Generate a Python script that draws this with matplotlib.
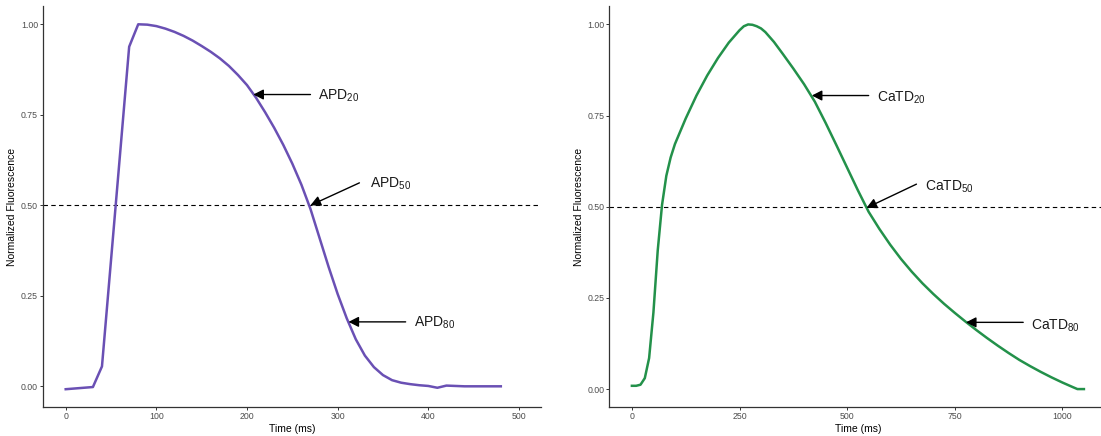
import matplotlib
matplotlib.use("Agg")
import matplotlib.pyplot as plt

# ===== Data =====

# optical action potential (voltage dye), sampled every 10 ms
apd_time = [0, 10, 20, 30, 40, 50, 60, 70, 80, 90,
            100, 110, 120, 130, 140, 150, 160, 170, 180, 190,
            200, 210, 220, 230, 240, 250, 260, 270, 280, 290,
            300, 310, 320, 330, 340, 350, 360, 370, 380, 390,
            400, 410, 420, 430, 440, 450, 460, 470, 480]
apd_signal = [-0.008, -0.006, -0.004, -0.002, 0.055, 0.349, 0.643, 0.938, 1.0, 0.999,
              0.995, 0.988, 0.979, 0.968, 0.955, 0.94, 0.924, 0.906, 0.885, 0.86,
              0.832, 0.797, 0.757, 0.714, 0.667, 0.615, 0.557, 0.49, 0.41, 0.33,
              0.255, 0.188, 0.13, 0.085, 0.053, 0.031, 0.017, 0.01, 0.006, 0.003,
              0.001, -0.004, 0.002, 0.001, 0.0, 0.0, 0.0, 0.0, 0.0]

# calcium transient
catd_time = [0, 10, 20, 30, 40, 50, 60, 70, 80, 90,
             100, 125, 150, 175, 200, 225, 250, 260, 270, 280,
             290, 300, 310, 330, 350, 375, 400, 425, 450, 475,
             500, 525, 550, 575, 600, 625, 650, 675, 700, 725,
             750, 775, 800, 825, 850, 875, 900, 925, 950, 975,
             1000, 1025, 1035, 1050]
catd_signal = [0.009, 0.009, 0.012, 0.03, 0.085, 0.21, 0.38, 0.505, 0.585, 0.635,
               0.672, 0.742, 0.805, 0.86, 0.908, 0.95, 0.984, 0.995, 1.0, 0.999,
               0.995, 0.989, 0.979, 0.952, 0.92, 0.879, 0.836, 0.788, 0.73, 0.669,
               0.607, 0.545, 0.486, 0.439, 0.396, 0.357, 0.322, 0.29, 0.261, 0.234,
               0.209, 0.185, 0.162, 0.14, 0.119, 0.099, 0.08, 0.063, 0.047, 0.032,
               0.018, 0.005, 0.0, 0.0]

# duration markers: (label, arrow tip, arrow tail, text position)
apd_marks = [
    ('APD$_{20}$', (207, 0.806), (270, 0.806), (278, 0.791)),
    ('APD$_{50}$', (270, 0.5), (324, 0.562), (336, 0.548)),
    ('APD$_{80}$', (312, 0.178), (375, 0.178), (384, 0.165)),
]
catd_marks = [
    ('CaTD$_{20}$', (418, 0.805), (550, 0.805), (569, 0.789)),
    ('CaTD$_{50}$', (545, 0.497), (661, 0.562), (682, 0.545)),
    ('CaTD$_{80}$', (776, 0.183), (909, 0.183), (928, 0.162)),
]

# ===== Style =====
plt.rcParams['font.family'] = ['Liberation Sans', 'DejaVu Sans']
plt.rcParams['mathtext.fontset'] = 'custom'
plt.rcParams['mathtext.rm'] = 'Liberation Sans'
plt.rcParams['mathtext.it'] = 'Liberation Sans'
plt.rcParams['mathtext.default'] = 'regular'

fig = plt.figure(figsize=(11.01, 4.36), dpi=100)
ax1 = fig.add_axes([0.0391, 0.0658, 0.452, 0.920])
ax2 = fig.add_axes([0.5534, 0.0658, 0.4516, 0.920])


def style_axes(ax, xticks, xlim, ylim):
    for side in ['top', 'right']:
        ax.spines[side].set_visible(False)
    for side in ['left', 'bottom']:
        ax.spines[side].set_color('#333333')
        ax.spines[side].set_linewidth(0.9)
    ax.set_xlim(*xlim)
    ax.set_ylim(*ylim)
    ax.set_xticks(xticks)
    ax.set_yticks([0, 0.25, 0.5, 0.75, 1.0])
    ax.set_yticklabels(['0.00', '0.25', '0.50', '0.75', '1.00'])
    ax.tick_params(axis='both', labelsize=6.3, labelcolor='#4d4d4d',
                   color='#333333', length=2.2, width=0.7, pad=1.5)
    ax.set_xlabel('Time (ms)', fontsize=7.5, labelpad=1.5)
    ax.set_ylabel('Normalized Fluorescence', fontsize=7.5, labelpad=2.5)
    ax.axhline(0.5, color='black', lw=0.8, ls=(0, (4, 3)))


def add_marks(ax, marks):
    for label, tip, tail, txt in marks:
        ax.annotate('', xy=tip, xytext=tail,
                    arrowprops=dict(arrowstyle='-|>,head_length=0.55,head_width=0.28',
                                    color='black', lw=1.0, mutation_scale=11,
                                    shrinkA=0, shrinkB=0))
        ax.text(txt[0], txt[1], label, fontsize=10, color='#1a1a1a',
                ha='left', va='baseline')


# ===== Action potential =====
style_axes(ax1, [0, 100, 200, 300, 400, 500], (-25, 524), (-0.058, 1.05))
ax1.plot(apd_time, apd_signal, color='#6a50b4', lw=1.8, solid_joinstyle='round')
add_marks(ax1, apd_marks)

# ===== Calcium transient =====
style_axes(ax2, [0, 250, 500, 750, 1000], (-52.5, 1102.5), (-0.05, 1.05))
ax2.plot(catd_time, catd_signal, color='#23914a', lw=1.8, solid_joinstyle='round')
add_marks(ax2, catd_marks)

fig.savefig('out.png', dpi=100)
